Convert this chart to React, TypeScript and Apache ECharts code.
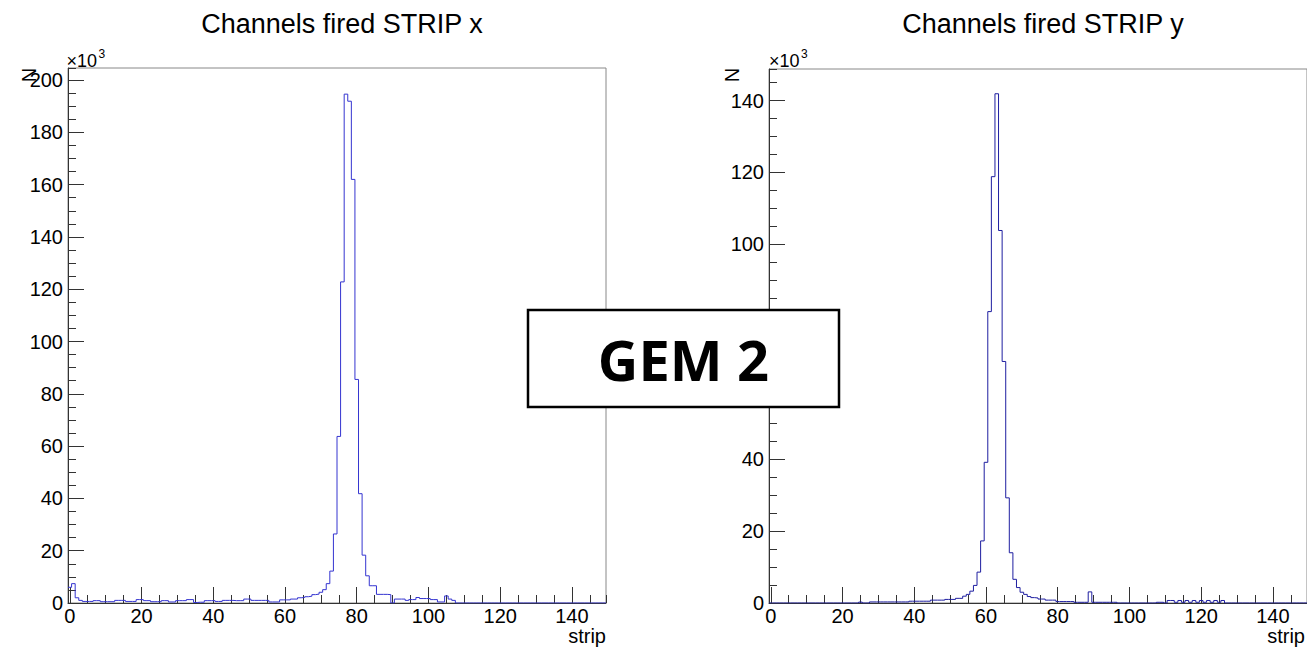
import React, { useEffect, useRef } from "react";
import * as echarts from "echarts";

// Histogram contents (counts in units of 10^3), one value per strip bin (bins centred on 0..149)
const stripX: number[] = [
  6.0, 7.4, 2.0, 1.0, 0.6, 0.6, 0.6, 0.9, 0.9, 0.5,
  0.5, 0.5, 0.5, 1.0, 1.0, 1.0, 0.6, 0.6, 0.6, 1.3,
  1.3, 0.9, 0.9, 0.5, 0.5, 0.5, 0.9, 0.9, 0.4, 0.4,
  0.9, 0.9, 0.9, 1.3, 1.3, 0.2, 0.3, 0.3, 0.9, 0.9,
  0.9, 0.6, 0.6, 1.0, 1.0, 1.0, 0.9, 0.9, 0.9, 1.5,
  1.5, 1.0, 1.0, 1.0, 1.0, 1.0, 0.4, 0.4, 0.4, 1.2,
  1.2, 1.2, 1.5, 1.5, 2.0, 2.1, 2.4, 2.6, 3.2, 3.4,
  4.1, 5.1, 7.4, 12.2, 26.4, 63.7, 122.8, 194.6, 191.9, 162.0,
  85.5, 41.8, 18.3, 10.4, 6.6, 6.6, 3.3, 3.3, 3.3, 3.2,
  0, 1.5, 1.5, 1.5, 1.0, 1.3, 1.3, 2.1, 1.7, 1.7,
  1.7, 1.3, 1.3, 0.4, 0.4, 2.7, 1.5, 1.0, 0, 0,
  0, 0, 0, 0, 0, 0, 0, 0, 0, 0,
  0, 0, 0, 0, 0, 0, 0, 0, 0, 0,
  0, 0, 0, 0, 0, 0, 0, 0, 0, 0,
  0, 0, 0, 0, 0, 0, 0, 0, 0, 0,
];

const stripY: number[] = [
  0, 0, 0, 0, 0, 0, 0, 0, 0, 0,
  0, 0, 0, 0, 0, 0, 0, 0, 0, 0,
  0, 0, 0, 0, 0, 0.25, 0, 0, 0.3, 0.3,
  0.3, 0.3, 0.3, 0.3, 0.3, 0.3, 0.3, 0.3, 0.3, 0.5,
  0.5, 0.5, 0.5, 0.5, 0.5, 0.8, 0.8, 0.8, 0.8, 1.0,
  1.0, 1.0, 1.3, 1.3, 1.9, 2.4, 3.3, 4.9, 8.6, 17.3,
  39.2, 81.2, 118.8, 141.9, 103.8, 67.3, 29.3, 14.0, 6.6, 4.3,
  3.0, 2.4, 1.8, 1.5, 1.4, 1.1, 1.1, 0.8, 0.8, 0.8,
  0.4, 0.4, 0.4, 0.4, 0.4, 0.2, 0.2, 0.2, 0.2, 3.1,
  0.2, 0.2, 0.2, 0.2, 0.2, 0.2, 0.2, 0, 0, 0,
  0, 0, 0, 0, 0, 0, 0, 0, 0.2, 0.2,
  0, 0.7, 0.7, 0.2, 0.7, 0.2, 0.7, 0.2, 0.7, 0.2,
  0.7, 0.2, 0.7, 0.2, 0.7, 0.2, 0.7, 0, 0, 0,
  0, 0, 0, 0, 0, 0, 0, 0, 0, 0,
  0, 0, 0, 0, 0, 0, 0, 0, 0, 0,
];

const titles = ["Channels fired STRIP x", "Channels fired STRIP y"];
const xAxisTitle = "strip";
const yAxisTitle = "N";
const yMaxLeft = 204.6;
const yMaxRight = 148.8;
const binLow = -0.5;
const binHigh = 149.5;

const FONT = '"Liberation Sans", Arial, Helvetica, sans-serif';

function edges(values: number[]): number[][] {
  const w = (binHigh - binLow) / values.length;
  const pts = values.map((v, i) => [binLow + i * w, v]);
  pts.push([binHigh, values[values.length - 1]]);
  return pts;
}

function xAxes(gridIndex: number) {
  return [
    {
      type: "value", gridIndex, min: binLow, max: binHigh, splitNumber: 7, position: "bottom",
      axisLine: { show: true, onZero: false, lineStyle: { color: "#333", width: 1 } },
      axisTick: { show: true, inside: true, length: 16, lineStyle: { color: "#333", width: 1 } },
      axisLabel: { show: true, showMinLabel: false, showMaxLabel: false, fontSize: 20, fontFamily: FONT, color: "#000", margin: 3 },
      splitLine: { show: false },
    },
    {
      type: "value", gridIndex, min: binLow, max: binHigh, splitNumber: 30, position: "bottom",
      axisLine: { show: false, onZero: false },
      axisTick: { show: true, inside: true, length: 8, lineStyle: { color: "#333", width: 1 } },
      axisLabel: { show: false },
      splitLine: { show: false },
    },
  ];
}

function yAxes(gridIndex: number, max: number) {
  return [
    {
      type: "value", gridIndex, min: 0, max, interval: 20, position: "left",
      axisLine: { show: true, onZero: false, lineStyle: { color: "#333", width: 1 } },
      axisTick: { show: true, inside: true, length: 16, lineStyle: { color: "#333", width: 1 } },
      axisLabel: { show: true, showMaxLabel: false, fontSize: 20, fontFamily: FONT, color: "#000", margin: 5 },
      splitLine: { show: false },
    },
    {
      type: "value", gridIndex, min: 0, max, interval: 5, position: "left",
      axisLine: { show: false, onZero: false },
      axisTick: { show: true, inside: true, length: 8, lineStyle: { color: "#333", width: 1 } },
      axisLabel: { show: false },
      splitLine: { show: false },
    },
  ];
}

export default function App() {
  const ref = useRef<HTMLDivElement>(null);

  useEffect(() => {
    if (!ref.current) return;
    const chart = echarts.init(ref.current, undefined, { renderer: "svg" });
    const txt = (text: string, x: number, y: number, fontSize: number, extra: any = {}) => ({
      type: "text", x, y, z: 50,
      style: { text, fontSize, fontFamily: FONT, fill: "#000", align: "left", verticalAlign: "middle", ...extra },
    });
    const titleStyle = { fontSize: 27, fontWeight: "normal", fontFamily: FONT, color: "#000" };
    chart.setOption({
      animation: false,
      backgroundColor: "#ffffff",
      title: [
        { text: titles[0], left: 337, top: 5, textAlign: "center", textStyle: titleStyle },
        { text: titles[1], left: 1038, top: 5, textAlign: "center", textStyle: titleStyle },
      ],
      grid: [
        { left: 68, top: 68, width: 538, height: 535, show: true, borderColor: "#888", borderWidth: 1, backgroundColor: "transparent" },
        { left: 769, top: 69, width: 539, height: 534, show: true, borderColor: "#888", borderWidth: 1, backgroundColor: "transparent" },
      ],
      xAxis: [...xAxes(0), ...xAxes(1)],
      yAxis: [...yAxes(0, yMaxLeft), ...yAxes(1, yMaxRight)],
      series: [
        {
          type: "line", xAxisIndex: 0, yAxisIndex: 0, data: edges(stripX), step: "end",
          symbol: "none", showSymbol: false, silent: true, clip: true,
          lineStyle: { color: "#3434d0", width: 1 },
        },
        {
          type: "line", xAxisIndex: 2, yAxisIndex: 2, data: edges(stripY), step: "end",
          symbol: "none", showSymbol: false, silent: true, clip: true,
          lineStyle: { color: "#1e1ea0", width: 1 },
        },
      ],
      graphic: [
        txt("×10", 66.5, 60.5, 18),
        txt("3", 98.5, 53.5, 12),
        txt("×10", 769, 60.5, 18),
        txt("3", 801, 53.5, 12),
        { type: "text", x: 28.5, y: 75, rotation: Math.PI / 2, z: 50,
          style: { text: yAxisTitle, fontSize: 20, fontFamily: FONT, fill: "#000", align: "center", verticalAlign: "middle" } },
        { type: "text", x: 731.7, y: 75, rotation: Math.PI / 2, z: 50,
          style: { text: yAxisTitle, fontSize: 20, fontFamily: FONT, fill: "#000", align: "center", verticalAlign: "middle" } },
        txt(xAxisTitle, 606, 636, 20, { align: "right" }),
        txt(xAxisTitle, 1305, 636, 20, { align: "right" }),
        { type: "rect", z: 100, shape: { x: 528, y: 310, width: 311, height: 97 },
          style: { fill: "#ffffff", stroke: "#000000", lineWidth: 2.5 } },
        { type: "text", z: 101, x: 683.5, y: 359,
          style: { text: "GEM 2", fontSize: 56, fontWeight: "bold", fontFamily: '"Open Sans", "Noto Sans", sans-serif', fill: "#000", align: "center", verticalAlign: "middle" } },
      ],
    });
    return () => chart.dispose();
  }, []);

  return (
    <div
      ref={ref}
      style={{ position: "absolute", left: 0, top: 0, width: 1307, height: 652, background: "#fff" }}
    />
  );
}
